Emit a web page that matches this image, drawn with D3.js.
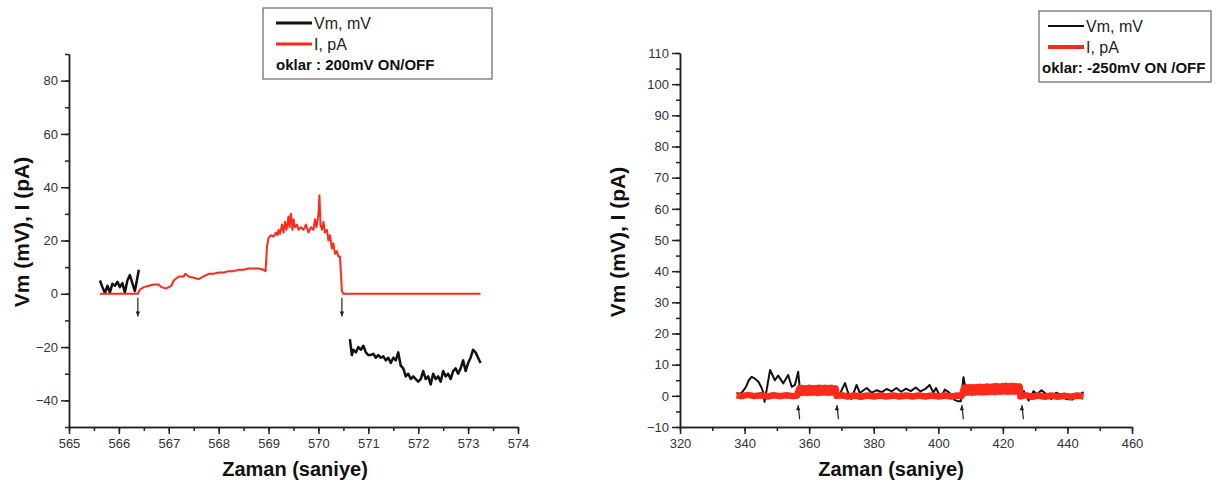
<!DOCTYPE html>
<html>
<head>
<meta charset="utf-8">
<script src="https://cdn.jsdelivr.net/npm/d3@7"></script>
<style>
  body { margin: 0; background: #fff; }
  svg { display: block; font-family: "Liberation Sans", Arial, sans-serif; }
  .tick text { fill: #333; font-size: 13px; }
  .axis path, .axis line { stroke: #222; stroke-width: 1.5px; }
</style>
</head>
<body>
<svg width="1227" height="487"></svg>
<script>
// left panel: 200mV ON/OFF  [time (s), value]
var vmLeft = [
  [565.62,5],[565.67,2.5],[565.72,0.3],[565.77,3],[565.82,0.5],[565.87,3.8],[565.92,3],[565.97,4.5],
  [566.02,2.5],[566.07,4],[566.12,0.5],[566.17,5],[566.22,7],[566.27,4],[566.32,1],[566.36,5],[566.4,9],
  null,
  [570.63,-17],[570.67,-23],[570.7,-21],[570.75,-22],[570.8,-20],[570.85,-21],[570.9,-19.5],[570.95,-22],
  [571.0,-23],[571.05,-23],[571.1,-22.5],[571.15,-24],[571.2,-23],[571.25,-24],[571.3,-23.5],[571.35,-25],
  [571.4,-24],[571.45,-26],[571.5,-24],[571.55,-25],[571.6,-22],[571.65,-27],[571.7,-28],[571.75,-31],
  [571.8,-30],[571.85,-32],[571.9,-31],[571.95,-32],[572.0,-33],[572.05,-32],[572.1,-29],[572.15,-32],
  [572.2,-31],[572.25,-34],[572.3,-30],[572.35,-32],[572.4,-31],[572.45,-33],[572.5,-29],[572.55,-31],
  [572.6,-30],[572.65,-32],[572.7,-29],[572.75,-28],[572.8,-30],[572.85,-28],[572.9,-25],[572.95,-29],
  [573.0,-26],[573.05,-24],[573.1,-21],[573.15,-22],[573.2,-24],[573.25,-26]
];
var iLeft = [
  [565.62,0],[566.38,0],[566.42,1.5],[566.5,2.5],[566.6,3],[566.7,3.5],[566.8,3.5],[566.85,2.5],[566.95,2],
  [567.05,3],[567.1,5],[567.2,6.5],[567.3,6.5],[567.33,7.5],[567.4,6.5],[567.5,6],[567.6,5.5],[567.7,6.5],
  [567.8,7.5],[567.9,7.5],[568.0,8],[568.1,8],[568.2,8.5],[568.3,8.5],[568.4,9],[568.5,9],[568.6,9.5],
  [568.7,9.5],[568.8,9.5],[568.9,9],[568.94,8.5],[568.97,18],[569.0,21],[569.05,22],[569.1,21.5],[569.15,23],
  [569.18,22],[569.2,24],[569.23,22.5],[569.27,26],[569.3,23],[569.33,27],[569.36,24],[569.4,29],[569.42,25],
  [569.45,30],[569.48,24],[569.5,28],[569.53,25],[569.57,26],[569.6,24],[569.65,25],[569.7,24],[569.75,26],
  [569.8,23],[569.85,25],[569.9,24],[569.93,28],[569.96,25],[570.0,30],[570.02,37],[570.04,26],[570.07,24],
  [570.1,27],[570.13,23],[570.17,24],[570.2,20],[570.23,22],[570.27,17],[570.3,19],[570.33,15],[570.37,16],
  [570.4,14],[570.43,14],[570.45,8],[570.47,1],[570.5,0],[573.25,0]
];
var arrowsLeft = [566.38, 570.47];

// right panel: -250mV ON/OFF
var vmRight = [
  [337.5,1],[338.5,0.5],[339.5,1.5],[340.5,3],[341.3,5],[342.2,6.1],[343.2,5.5],[344.3,4.5],[345.3,2.5],
  [345.8,0.9],[346.2,-1.9],[347.9,8.3],[349.4,5],[350.4,6.5],[352,4],[353.5,6.7],[354.6,2.9],[355.6,3.5],
  [356.6,7.7],[357.2,1.5],[368,1.5],[369.5,0.5],[371.1,4.1],[372.1,0.9],[373.1,-1],[374.7,3.5],[375.7,0.9],
  [377.8,2.5],[379.4,1],[381,1.8],[382.5,1.2],[384,2.2],[385.5,1.4],[387,2.5],[388.5,1.3],[390,2.3],
  [391.5,1.5],[393,2.7],[394.5,1.4],[396,2.2],[397.3,3.5],[398.5,1],[399.3,2.5],[400.8,-0.8],[402,2],
  [403.5,1],[405,-1.3],[406,-1.7],[407,-1.7],[407.8,6],[408.5,2],[424,2],[425.5,0],[426.5,1.5],[428,-1.5],
  [429.5,1.5],[430.5,0.5],[432,1.8],[433.5,0.5],[435,-1],[436.5,1],[438,0.4],[439.5,-1],[441.5,-1.2],
  [443.5,0.2],[445,1.2]
];
var iRight = [
  [337.5,0.2],[339,-0.1],[341,0.3],[343,-0.1],[345,0.2],[347,-0.2],[349,0.2],[351,-0.1],[353,0.2],[355,-0.1],
  [356.3,0.1],
  [356.5,1],[357,2.4],[357.5,0.9],[358,2.5],[358.5,1],[359,2.4],[359.5,0.9],[360,2.6],[360.5,1],[361,2.4],
  [361.5,1.1],[362,2.5],[362.5,0.9],[363,2.6],[363.5,1],[364,2.5],[364.5,1.1],[365,2.6],[365.5,1],[366,2.5],
  [366.5,1],[367,2.6],[367.5,1.1],[368.2,2.4],
  [368.5,0],[370,0.2],[372,-0.2],[374,0.1],[376,-0.3],[378,0.1],[380,-0.2],[382,0.1],[384,-0.2],[386,0.1],
  [388,-0.2],[390,0.1],[392,-0.2],[394,0.1],[396,-0.2],[398,0.1],[400,-0.2],[402,0.1],[404,-0.2],[406,0.1],
  [407.2,-0.1],
  [407.5,0.9],[408,2.6],[408.5,1],[409,2.7],[409.5,1.1],[410,2.8],[410.5,1],[411,2.7],[411.5,1.1],[412,2.8],
  [412.5,1.2],[413,2.9],[413.5,1.1],[414,2.8],[414.5,1.2],[415,3],[415.5,1.2],[416,2.9],[416.5,1.3],[417,3],
  [417.5,1.2],[418,3.1],[418.5,1.3],[419,3],[419.5,1.3],[420,3.1],[420.5,1.4],[421,3.2],[421.5,1.3],[422,3.1],
  [422.5,1.4],[423,3.2],[423.5,1.3],[424,3.1],[424.5,1.4],[425.2,3],
  [425.4,-0.2],[427,0.2],[429,-0.3],[431,0.1],[433,-0.3],[435,0.1],[437,-0.3],[439,0],[441,-0.3],[443,0.1],
  [445,-0.2]
];
var arrowsRight = [356.6, 368.6, 407.3, 425.9];

var svg = d3.select('svg');

function drawPanel(cfg) {
  var x = d3.scaleLinear().domain(cfg.xDomain).range(cfg.xRange);
  var y = d3.scaleLinear().domain(cfg.yDomain).range(cfg.yRange);
  var g = svg.append('g');

  // minor ticks
  g.append('g').attr('class', 'axis')
    .attr('transform', 'translate(0,' + cfg.yRange[0] + ')')
    .call(d3.axisBottom(x).tickValues(d3.range(cfg.xDomain[0], cfg.xDomain[1] + 1e-9, cfg.xMinor))
      .tickSize(4).tickSizeOuter(0).tickFormat(''));
  g.append('g').attr('class', 'axis')
    .attr('transform', 'translate(' + cfg.xRange[0] + ',0)')
    .call(d3.axisLeft(y).tickValues(d3.range(cfg.yDomain[0], cfg.yDomain[1] + 1e-9, cfg.yMinor))
      .tickSize(4).tickSizeOuter(0).tickFormat(''));

  // major ticks + labels
  g.append('g').attr('class', 'axis')
    .attr('transform', 'translate(0,' + cfg.yRange[0] + ')')
    .call(d3.axisBottom(x).tickValues(cfg.xTicks).tickSize(7).tickSizeOuter(0).tickPadding(5));
  g.append('g').attr('class', 'axis')
    .attr('transform', 'translate(' + cfg.xRange[0] + ',0)')
    .call(d3.axisLeft(y).tickValues(cfg.yTicks).tickSize(8).tickSizeOuter(0).tickPadding(3));

  var line = d3.line()
    .defined(function(d) { return d !== null; })
    .x(function(d) { return x(d[0]); })
    .y(function(d) { return y(d[1]); });

  g.append('path').datum(cfg.vm)
    .attr('d', line).attr('fill', 'none')
    .attr('stroke', '#111').attr('stroke-width', cfg.vmWidth).attr('stroke-linejoin', 'round');
  g.append('path').datum(cfg.cur)
    .attr('d', line).attr('fill', 'none')
    .attr('stroke', '#ff2a1a').attr('stroke-width', cfg.iWidth).attr('stroke-linejoin', 'round');

  // ON/OFF arrows
  cfg.arrows.forEach(function(t) {
    var x0 = x(t), tip, tail;
    if (cfg.arrowDir === 'down') {
      tip = [x0, y(-8.5)]; tail = [x0, y(-1.5)];
    } else {
      tip = [x0, y(-3)]; tail = [x0 + 1.5, y(-7.5)];
    }
    g.append('line')
      .attr('x1', tail[0]).attr('y1', tail[1]).attr('x2', tip[0]).attr('y2', tip[1])
      .attr('stroke', '#222').attr('stroke-width', 1.2);
    var dir = cfg.arrowDir === 'down' ? -1 : 1;
    g.append('path')
      .attr('d', 'M' + tip[0] + ',' + tip[1] + 'l-2.2,' + (dir * 5) + 'l4.4,0z')
      .attr('fill', '#222');
  });

  // axis titles
  g.append('text')
    .attr('transform', 'translate(' + cfg.yTitle[0] + ',' + cfg.yTitle[1] + ') rotate(-90)')
    .attr('text-anchor', 'middle').attr('font-weight', 'bold').attr('font-size', 21)
    .attr('fill', '#111').text('Vm (mV), I (pA)');
  g.append('text')
    .attr('x', cfg.xTitle[0]).attr('y', cfg.xTitle[1])
    .attr('text-anchor', 'middle').attr('font-weight', 'bold').attr('font-size', 20)
    .attr('fill', '#111').text('Zaman (saniye)');

  // legend
  var L = cfg.legend;
  var lg = g.append('g');
  lg.append('rect').attr('x', L.x).attr('y', L.y).attr('width', L.w).attr('height', L.h)
    .attr('fill', '#fff').attr('stroke', '#666').attr('stroke-width', 1.2);
  lg.append('line').attr('x1', L.lx).attr('x2', L.lx + 36).attr('y1', L.y + 15).attr('y2', L.y + 15)
    .attr('stroke', '#111').attr('stroke-width', L.vmW);
  lg.append('line').attr('x1', L.lx).attr('x2', L.lx + 36).attr('y1', L.y + 36).attr('y2', L.y + 36)
    .attr('stroke', '#ff2a1a').attr('stroke-width', L.iW);
  lg.append('text').attr('x', L.lx + 38).attr('y', L.y + 21).attr('font-size', 16).attr('fill', '#222').text('Vm, mV');
  lg.append('text').attr('x', L.lx + 38).attr('y', L.y + 42).attr('font-size', 16).attr('fill', '#222').text('I, pA');
  lg.append('text').attr('x', L.tx).attr('y', L.y + 62).attr('font-size', 15).attr('font-weight', 'bold')
    .attr('fill', '#111').text(L.note);
}

drawPanel({
  xDomain: [565, 574], xRange: [69, 518], xMinor: 0.5, xTicks: d3.range(565, 575, 1),
  yDomain: [-50, 90], yRange: [427, 54], yMinor: 10, yTicks: [-40, -20, 0, 20, 40, 60, 80],
  vm: vmLeft, cur: iLeft, vmWidth: 2.5, iWidth: 2,
  arrows: arrowsLeft, arrowDir: 'down',
  yTitle: [29, 232], xTitle: [295, 476],
  legend: { x: 263, y: 8, w: 229, h: 71, lx: 276, tx: 276, vmW: 3, iW: 3, note: 'oklar : 200mV ON/OFF' }
});

drawPanel({
  xDomain: [320, 460], xRange: [680, 1132], xMinor: 10, xTicks: d3.range(320, 461, 20),
  yDomain: [-10, 110], yRange: [427, 53], yMinor: 5, yTicks: d3.range(-10, 111, 10),
  vm: vmRight, cur: iRight, vmWidth: 2, iWidth: 6.5,
  arrows: arrowsRight, arrowDir: 'up',
  yTitle: [625, 242], xTitle: [891, 476],
  legend: { x: 1039, y: 11, w: 172, h: 71, lx: 1048, tx: 1042, vmW: 2, iW: 4, note: 'oklar: -250mV ON /OFF' }
});
</script>
</body>
</html>
